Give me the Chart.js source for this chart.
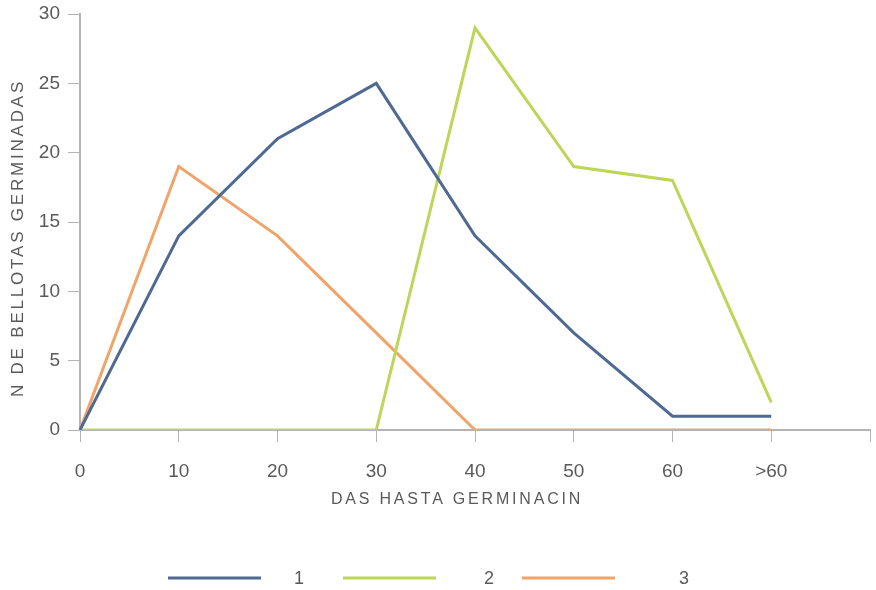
<!DOCTYPE html>
<html>
<head>
<meta charset="utf-8">
<script src="https://cdn.jsdelivr.net/npm/chart.js@4.4.1/dist/chart.umd.min.js"></script>
<style>
  html, body { margin: 0; padding: 0; background: #fff; }
  #wrap { width: 876px; height: 590px; }
</style>
</head>
<body>
<div id="wrap"><canvas id="c" width="876" height="590"></canvas></div>
<script>
const categories = ['0', '10', '20', '30', '40', '50', '60', '>60', ''];
const seriesNames = ['1', '2', '3'];
const series1 = [0, 14, 21, 25, 14, 7, 1, 1];
const series2 = [0, 0, 0, 0, 29, 19, 18, 2];
const series3 = [0, 19, 14, 7, 0, 0, 0, 0];
const yTicks = [0, 5, 10, 15, 20, 25, 30];
const xTitle = 'DAS HASTA GERMINACIN';
const yTitle = 'N DE BELLOTAS GERMINADAS';

const colors = ['#4f6a92', '#bdd65a', '#f0a46a'];
const axisGray = '#b4b4b4';
const textGray = '#5a5a5a';

// widen letter spacing of axis titles and nudge them like the original
const titleSpacingPlugin = {
  id: 'titleSpacing',
  afterLayout(chart, args, opts) {
    Object.values(chart.scales).forEach(s => {
      if (s._spacedTitle) return;
      const orig = s.drawTitle;
      const shift = opts.shift[s.id] || [0, 0];
      s.drawTitle = function () {
        const ctx = this.ctx;
        ctx.save();
        ctx.letterSpacing = opts.spacing;
        ctx.translate(shift[0], shift[1]);
        orig.apply(this, arguments);
        ctx.restore();
      };
      s._spacedTitle = true;
    });
  }
};

const legendPlugin = {
  id: 'bottomLegend',
  afterDraw(chart, args, opts) {
    const ctx = chart.ctx;
    ctx.save();
    chart.data.datasets.forEach((ds, i) => {
      const lx = opts.lineX[i];
      ctx.strokeStyle = ds.borderColor;
      ctx.lineWidth = 3;
      ctx.beginPath();
      ctx.moveTo(lx, opts.y);
      ctx.lineTo(lx + opts.lineLen, opts.y);
      ctx.stroke();
      ctx.fillStyle = textGray;
      ctx.font = '18px "Liberation Sans", Arial, sans-serif';
      ctx.textAlign = 'center';
      ctx.textBaseline = 'middle';
      ctx.fillText(ds.label, opts.textX[i], opts.y + 1);
    });
    ctx.restore();
  }
};

const mk = (name, data, color) => ({
  label: name, data, borderColor: color, backgroundColor: color,
  borderWidth: 3, pointRadius: 0, tension: 0, fill: false
});

new Chart(document.getElementById('c'), {
  type: 'line',
  data: {
    labels: categories,
    datasets: [
      mk(seriesNames[0], series1, colors[0]),
      mk(seriesNames[1], series2, colors[1]),
      mk(seriesNames[2], series3, colors[2])
    ]
  },
  options: {
    responsive: false,
    animation: false,
    layout: { padding: { top: 14, right: 6, bottom: 80, left: 0 } },
    plugins: {
      legend: { display: false },
      tooltip: { enabled: false },
      titleSpacing: { spacing: '2.8px', shift: { x: [-18, 0], y: [0, 16] } },
      bottomLegend: { y: 578, lineLen: 93, lineX: [168, 343, 522], textX: [299, 489, 684] }
    },
    scales: {
      x: {
        offset: false,
        afterFit(scale) { scale.height = 80; scale.paddingLeft = 0; scale.paddingRight = 0; },
        grid: { drawOnChartArea: false, drawTicks: true, tickLength: 12, color: axisGray, lineWidth: 1 },
        border: { color: axisGray, width: 2 },
        ticks: { color: textGray, padding: 18, maxRotation: 0, autoSkip: false,
                 font: { family: '"Liberation Sans", Arial, sans-serif', size: 19 } },
        title: { display: true, text: xTitle, color: textGray, padding: { top: 0, bottom: 1 },
                 font: { family: '"Liberation Sans", Arial, sans-serif', size: 16 } }
      },
      y: {
        min: 0, max: 30,
        afterFit(scale) { scale.width = 80; scale.paddingTop = 0; scale.paddingBottom = 0; },
        afterBuildTicks(scale) { scale.ticks = yTicks.map(v => ({ value: v })); },
        grid: { drawOnChartArea: false, drawTicks: true, tickLength: 12, color: axisGray, lineWidth: 1 },
        border: { color: axisGray, width: 2 },
        ticks: { color: textGray, padding: 8,
                 font: { family: '"Liberation Sans", Arial, sans-serif', size: 19 } },
        title: { display: true, text: yTitle, color: textGray, padding: { top: 8, bottom: 0 },
                 font: { family: '"Liberation Sans", Arial, sans-serif', size: 17 } }
      }
    }
  },
  plugins: [titleSpacingPlugin, legendPlugin]
});
</script>
</body>
</html>
